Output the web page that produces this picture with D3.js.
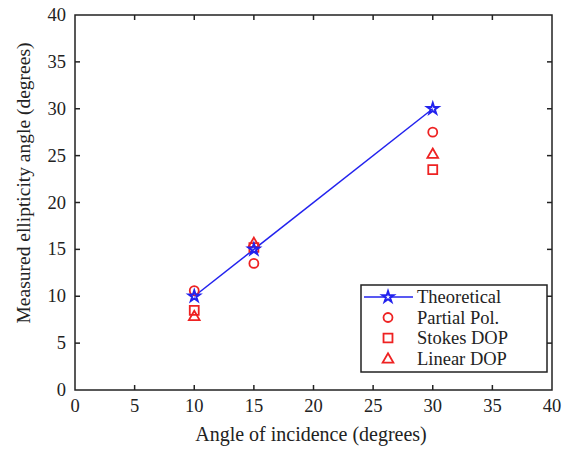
<html>
<head>
<script src="https://cdn.jsdelivr.net/npm/d3@7"></script>
<style>
  body { margin: 0; background: #fff; }
</style>
</head>
<body>
<div id="chart"></div>
<script>
// data
var angles = [10, 15, 30];
var theoretical = [10, 15, 30];
var partialPol = [10.6, 13.5, 27.5];
var stokesDop = [8.5, 15.2, 23.5];
var linearDop = [7.9, 15.7, 25.2];
var xTicks = [0, 5, 10, 15, 20, 25, 30, 35, 40];
var yTicks = [0, 5, 10, 15, 20, 25, 30, 35, 40];

var W = 571, H = 453;
var m = {left: 75, right: 19, top: 15, bottom: 63};
var svg = d3.select("#chart").append("svg").attr("width", W).attr("height", H)
  .attr("font-family", "'Liberation Serif', 'Times New Roman', Times, serif");
var g = svg.append("g").attr("transform", "translate(" + m.left + "," + m.top + ")");
var w = W - m.left - m.right, h = H - m.top - m.bottom;

var x = d3.scaleLinear().domain([0, 40]).range([0, w]);
var y = d3.scaleLinear().domain([0, 40]).range([h, 0]);
var ink = "#222";

// frame + inward ticks on all four sides
g.append("rect").attr("width", w).attr("height", h)
  .attr("fill", "none").attr("stroke", ink).attr("stroke-width", 1.5);
var tl = 5;
xTicks.slice(1, -1).forEach(function (t) {
  g.append("line").attr("x1", x(t)).attr("x2", x(t)).attr("y1", h).attr("y2", h - tl).attr("stroke", ink).attr("stroke-width", 1.5);
  g.append("line").attr("x1", x(t)).attr("x2", x(t)).attr("y1", 0).attr("y2", tl).attr("stroke", ink).attr("stroke-width", 1.5);
});
yTicks.slice(1, -1).forEach(function (t) {
  g.append("line").attr("y1", y(t)).attr("y2", y(t)).attr("x1", 0).attr("x2", tl).attr("stroke", ink).attr("stroke-width", 1.5);
  g.append("line").attr("y1", y(t)).attr("y2", y(t)).attr("x1", w).attr("x2", w - tl).attr("stroke", ink).attr("stroke-width", 1.5);
});
xTicks.forEach(function (t) {
  g.append("text").attr("x", x(t)).attr("y", h + 22).attr("text-anchor", "middle")
    .attr("fill", ink).attr("font-size", 18.5).text(t);
});
yTicks.forEach(function (t) {
  g.append("text").attr("x", -9).attr("y", y(t) + 6).attr("text-anchor", "end")
    .attr("fill", ink).attr("font-size", 18.5).text(t);
});

svg.append("text").attr("x", 311).attr("y", 441).attr("text-anchor", "middle")
  .attr("fill", ink).attr("font-size", 20).text("Angle of incidence (degrees)");
svg.append("text").attr("transform", "translate(30,183) rotate(-90)")
  .attr("text-anchor", "middle").attr("fill", ink).attr("font-size", 19.5).text("Measured ellipticity angle (degrees)");

var blue = "#2222ee", red = "#ee2222";
var star = d3.symbol().type(d3.symbolStar).size(38);
var sq = d3.symbol().type(d3.symbolSquare).size(80);
var tri = d3.symbol().type(d3.symbolTriangle).size(50);

// theoretical line
g.append("path").datum(angles.map(function (a, i) { return [a, theoretical[i]]; }))
  .attr("fill", "none").attr("stroke", blue).attr("stroke-width", 1.5)
  .attr("d", d3.line().x(function (d) { return x(d[0]); }).y(function (d) { return y(d[1]); }));

function markers(vals, draw) {
  angles.forEach(function (a, i) { draw(x(a), y(vals[i])); });
}
markers(partialPol, function (cx, cy) {
  g.append("circle").attr("cx", cx).attr("cy", cy).attr("r", 4.5).attr("fill", "none").attr("stroke", red).attr("stroke-width", 1.8);
});
markers(stokesDop, function (cx, cy) {
  g.append("path").attr("d", sq).attr("transform", "translate(" + cx + "," + cy + ")").attr("fill", "none").attr("stroke", red).attr("stroke-width", 1.8);
});
markers(linearDop, function (cx, cy) {
  g.append("path").attr("d", tri).attr("transform", "translate(" + cx + "," + (cy + 1) + ")").attr("fill", "none").attr("stroke", red).attr("stroke-width", 1.8);
});
markers(theoretical, function (cx, cy) {
  g.append("path").attr("d", star).attr("transform", "translate(" + cx + "," + cy + ")").attr("fill", "none").attr("stroke", blue).attr("stroke-width", 2);
});

// legend
var lg = svg.append("g").attr("transform", "translate(361,285)");
lg.append("rect").attr("width", 186).attr("height", 87).attr("fill", "#fff").attr("stroke", ink).attr("stroke-width", 1.5);
var names = ["Theoretical", "Partial Pol.", "Stokes DOP", "Linear DOP"];
names.forEach(function (n, i) {
  var ly = 12 + i * 20.5;
  if (i === 0) {
    lg.append("line").attr("x1", 3).attr("x2", 52).attr("y1", ly).attr("y2", ly).attr("stroke", blue).attr("stroke-width", 1.5);
    lg.append("path").attr("d", star).attr("transform", "translate(27," + ly + ")").attr("fill", "#fff").attr("stroke", blue).attr("stroke-width", 2);
  } else if (i === 1) {
    lg.append("circle").attr("cx", 27).attr("cy", ly).attr("r", 4.5).attr("fill", "none").attr("stroke", red).attr("stroke-width", 1.8);
  } else if (i === 2) {
    lg.append("path").attr("d", sq).attr("transform", "translate(27," + ly + ")").attr("fill", "none").attr("stroke", red).attr("stroke-width", 1.8);
  } else {
    lg.append("path").attr("d", tri).attr("transform", "translate(27," + (ly + 1) + ")").attr("fill", "none").attr("stroke", red).attr("stroke-width", 1.8);
  }
  lg.append("text").attr("x", 56).attr("y", ly + 6).attr("fill", ink).attr("font-size", 18.5).text(n);
});
</script>
</body>
</html>
